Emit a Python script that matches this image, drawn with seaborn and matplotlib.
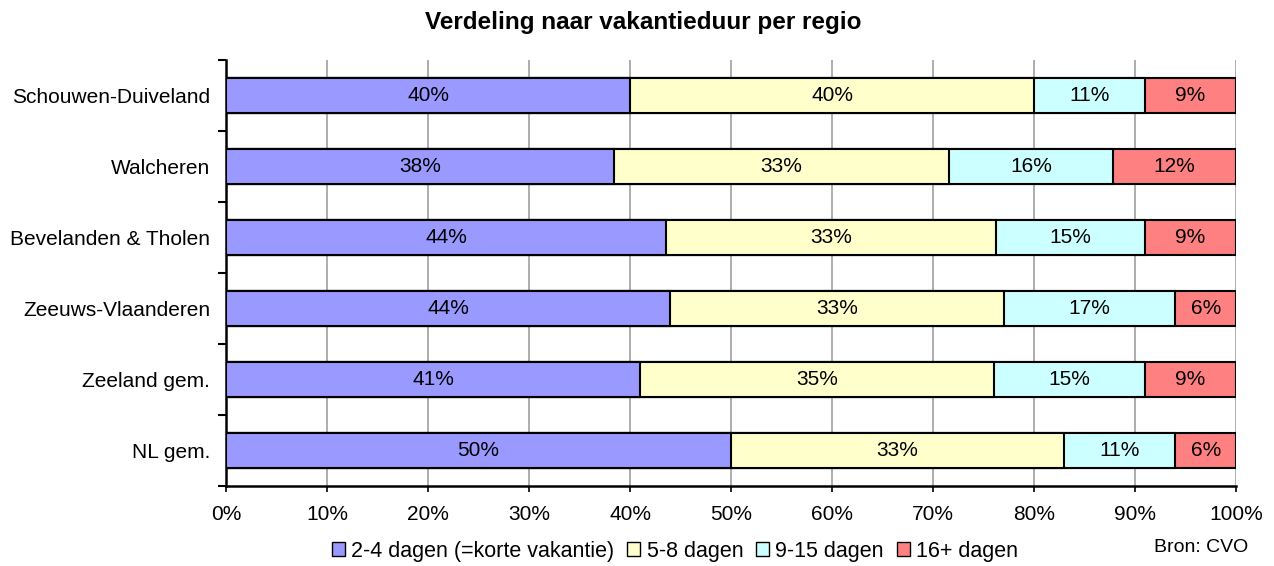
import matplotlib
matplotlib.use("Agg")
import matplotlib.pyplot as plt
import seaborn as sns
import pandas as pd
import numpy as np
from matplotlib.patches import Patch

regions = ["Schouwen-Duiveland", "Walcheren", "Bevelanden & Tholen",
           "Zeeuws-Vlaanderen", "Zeeland gem.", "NL gem."]
series_names = ["2-4 dagen (=korte vakantie)", "5-8 dagen", "9-15 dagen", "16+ dagen"]
d_2_4 = [40.0, 38.4, 43.6, 44.0, 41.0, 50.0]
d_5_8 = [40.0, 33.2, 32.6, 33.0, 35.0, 33.0]
d_9_15 = [11.0, 16.2, 14.8, 17.0, 15.0, 11.0]
d_16p = [9.0, 12.2, 9.0, 6.0, 9.0, 6.0]
colors = ["#9999FF", "#FFFFCC", "#CCFFFF", "#FF8080"]
x_ticks = [0, 10, 20, 30, 40, 50, 60, 70, 80, 90, 100]

sns.set_theme(style="white")
plt.rcParams["font.family"] = ["Liberation Sans", "DejaVu Sans"]
plt.rcParams["text.color"] = "black"
plt.rcParams["xtick.color"] = "black"
plt.rcParams["ytick.color"] = "black"

series = [d_2_4, d_5_8, d_9_15, d_16p]
df = pd.DataFrame({"regio": regions})
cum = np.zeros(len(regions))
cums = []
for name, vals in zip(series_names, series):
    cum = cum + np.array(vals)
    cums.append(cum.copy())
    df[name] = cum.copy()

fig = plt.figure(figsize=(12.74, 5.66), dpi=100)
ax = fig.add_axes([226/1274, 1-486/566, (1236-226)/1274, (486-60)/566])

for i in range(len(series_names) - 1, -1, -1):
    sns.barplot(data=df, x=series_names[i], y="regio", orient="h", color=colors[i],
                edgecolor="black", linewidth=1.5, width=0.48, ax=ax, zorder=3,
                saturation=1)

for i, vals in enumerate(series):
    for j, v in enumerate(vals):
        center = cums[i][j] - v / 2
        ax.text(center, j, f"{round(v):.0f}%", ha="center", va="center",
                fontsize=15, color="black", zorder=5)

ax.set_xlim(0, 100)
ax.set_ylim(len(regions) - 0.5, -0.5)
ax.set_xticks(x_ticks)
ax.set_xticklabels([f"{t}%" for t in x_ticks], fontsize=15)
ax.set_xlabel("")
ax.set_ylabel("")
ax.tick_params(axis="y", which="major", left=False, length=0, labelsize=15, pad=11.5,
               labelcolor="black")
ax.set_yticks(np.arange(-0.5, len(regions) + 0.5, 1), minor=True)
ax.tick_params(axis="y", which="minor", left=True, length=6, width=1.5, color="black",
               direction="out")
ax.tick_params(axis="x", which="major", bottom=True, length=4.5, width=1.2, color="black",
               direction="out", pad=9, labelcolor="black")
ax.grid(axis="x", color="#A0A0A0", linewidth=1.2, zorder=0)
ax.set_axisbelow(True)
for s in ["top", "right"]:
    ax.spines[s].set_visible(False)
for s in ["left", "bottom"]:
    ax.spines[s].set_color("black")
    ax.spines[s].set_linewidth(1.8)
ax.xaxis.grid(True)

fig.text(643/1274, 1-22/566, "Verdeling naar vakantieduur per regio", ha="center", va="center",
         fontsize=17.5, fontweight="bold", color="black")
handles = [Patch(facecolor=c, edgecolor="black", linewidth=1) for c in colors]
fig.legend(handles, series_names, loc="center", bbox_to_anchor=(675/1274, 1-551/566),
           ncol=4, frameon=False, fontsize=15.5, handlelength=0.6, handleheight=0.6,
           handletextpad=0.3, columnspacing=0.6, borderaxespad=0)
fig.text(1248/1274, 1-548/566, "Bron: CVO", ha="right", va="center", fontsize=14,
         color="black")

fig.savefig("out.png", dpi=100)
